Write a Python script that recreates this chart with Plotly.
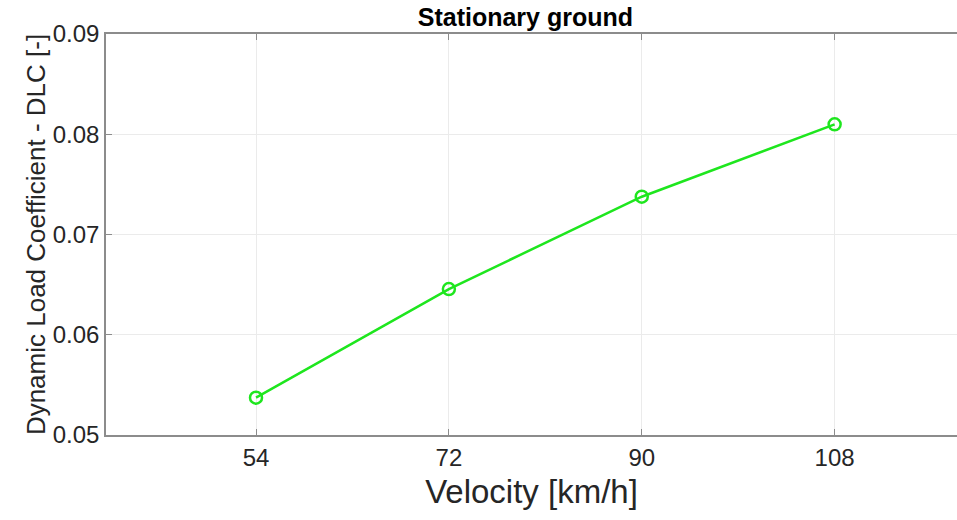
import plotly.graph_objects as go

velocity = [54, 72, 90, 108]
dlc = [0.05372, 0.06456, 0.07377, 0.08099]
x_ticks = [54, 72, 90, 108]
y_ticks = [0.05, 0.06, 0.07, 0.08, 0.09]
y_tick_labels = ["0.05", "0.06", "0.07", "0.08", "0.09"]

fig = go.Figure()
fig.add_trace(go.Scatter(
    x=velocity, y=dlc, mode="lines+markers",
    line=dict(color="#1ee61e", width=2.5),
    marker=dict(symbol="circle-open", size=12, color="#1ee61e", line=dict(width=2.5)),
    showlegend=False,
))

font_family = "Liberation Sans, Arial, sans-serif"
fig.update_layout(
    width=957, height=520,
    margin=dict(l=106, r=0, t=34, b=85),
    paper_bgcolor="white", plot_bgcolor="white",
    font=dict(family=font_family, color="#262626"),
    title=dict(text="<b>Stationary ground</b>", x=0.549, xanchor="center",
               y=1 - 17 / 520, yanchor="middle", font=dict(size=25, color="#000000")),
)
fig.update_xaxes(
    range=[40, 119.42], tickvals=x_ticks, ticktext=[str(v) for v in x_ticks],
    showgrid=True, gridcolor="#ebebeb", gridwidth=1,
    showline=True, linecolor="#8c8c8c", linewidth=1.5, mirror="ticks",
    ticks="inside", ticklen=6, tickcolor="#8c8c8c",
    tickfont=dict(size=24, color="#262626"),
    title=dict(text="Velocity [km/h]", font=dict(size=33, color="#262626"), standoff=10),
    zeroline=False,
)
fig.update_yaxes(
    range=[0.05, 0.09], tickvals=y_ticks, ticktext=y_tick_labels,
    showgrid=True, gridcolor="#ebebeb", gridwidth=1,
    showline=True, linecolor="#8c8c8c", linewidth=1.5, mirror=False,
    ticks="inside", ticklen=6, tickcolor="#8c8c8c",
    tickfont=dict(size=24, color="#262626"),
    title=dict(text="Dynamic Load Coefficient - DLC [-]", font=dict(size=26, color="#262626"), standoff=0),
    zeroline=False,
)

fig.write_html("out.html")
